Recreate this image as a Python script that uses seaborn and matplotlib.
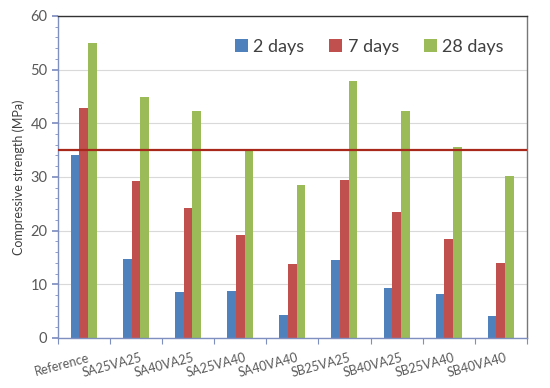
import pandas as pd
import seaborn as sns
import matplotlib.pyplot as plt
import matplotlib.transforms as mtransforms
from matplotlib.ticker import MultipleLocator, FixedLocator

# mix designs on the x axis
mixes = ['Reference', 'SA25VA25', 'SA40VA25', 'SA25VA40', 'SA40VA40',
         'SB25VA25', 'SB40VA25', 'SB25VA40', 'SB40VA40']
ages = ['2 days', '7 days', '28 days']

# compressive strength (MPa)
day2 = [34.0, 14.7, 8.5, 8.7, 4.2, 14.5, 9.3, 8.1, 4.0]
day7 = [42.9, 29.3, 24.2, 19.2, 13.8, 29.5, 23.5, 18.5, 14.0]
day28 = [55.0, 44.8, 42.3, 35.0, 28.5, 47.8, 42.2, 35.6, 30.2]
target_strength = 35.0

colors = ['#4F81BD', '#C0504D', '#9BBB59']

df = pd.DataFrame({
    'mix': mixes * 3,
    'age': [a for a in ages for _ in mixes],
    'strength': day2 + day7 + day28,
})

sns.set_theme(style='white')
plt.rcParams['font.family'] = ['Lato', 'DejaVu Sans']

fig = plt.figure(figsize=(5.5, 3.88), dpi=100)
ax = fig.add_axes([0.105, 0.129, 0.853, 0.83])

sns.barplot(data=df, x='mix', y='strength', hue='age', order=mixes,
            hue_order=ages, palette=colors, width=0.5, saturation=1,
            edgecolor='none', ax=ax)

ax.axhline(target_strength, color='#A8281C', lw=1.6, zorder=5)

ax.set_ylim(0, 60)
ax.set_xlim(-0.5, len(mixes) - 0.5)
ax.yaxis.set_major_locator(MultipleLocator(10))
ax.yaxis.set_minor_locator(MultipleLocator(2))
ax.grid(axis='y', color='#D9D9D9', lw=0.8)
ax.set_axisbelow(True)

ax.xaxis.set_minor_locator(FixedLocator([i + 0.5 for i in range(-1, len(mixes))]))
ax.tick_params(axis='x', which='major', length=0, labelsize=9,
               labelcolor='#595959', pad=14)
ax.tick_params(axis='x', which='minor', bottom=True, length=4,
               color='#7F8FC0', width=0.8)
ax.tick_params(axis='y', which='major', left=True, length=4,
               color='#7F8FC0', labelsize=10.5, labelcolor='#595959')
ax.tick_params(axis='y', which='minor', left=True, length=2.5,
               color='#7F8FC0', width=0.6)
shift = mtransforms.ScaledTranslation(4 / 72, 0, fig.dpi_scale_trans)
for lbl in ax.get_xticklabels():
    lbl.set_rotation(15)
    lbl.set_ha('right')
    lbl.set_va('center')
    lbl.set_rotation_mode('anchor')
    lbl.set_transform(lbl.get_transform() + shift)

ax.set_xlabel('')
ax.set_ylabel('Compressive strength (MPa)', fontsize=9, color='#404040')

ax.spines['left'].set_color('#7F8FC0')
ax.spines['bottom'].set_color('#7F8FC0')
ax.spines['top'].set_color('#333333')
ax.spines['right'].set_color('#777777')
for s in ax.spines.values():
    s.set_linewidth(1.0)

ax.legend(loc='upper right', ncol=3, frameon=False, fontsize=13,
          handlelength=0.7, handleheight=0.7, handletextpad=0.3,
          columnspacing=1.4, bbox_to_anchor=(0.985, 0.98),
          labelcolor='#404040')

fig.savefig('out.png', dpi=100)
